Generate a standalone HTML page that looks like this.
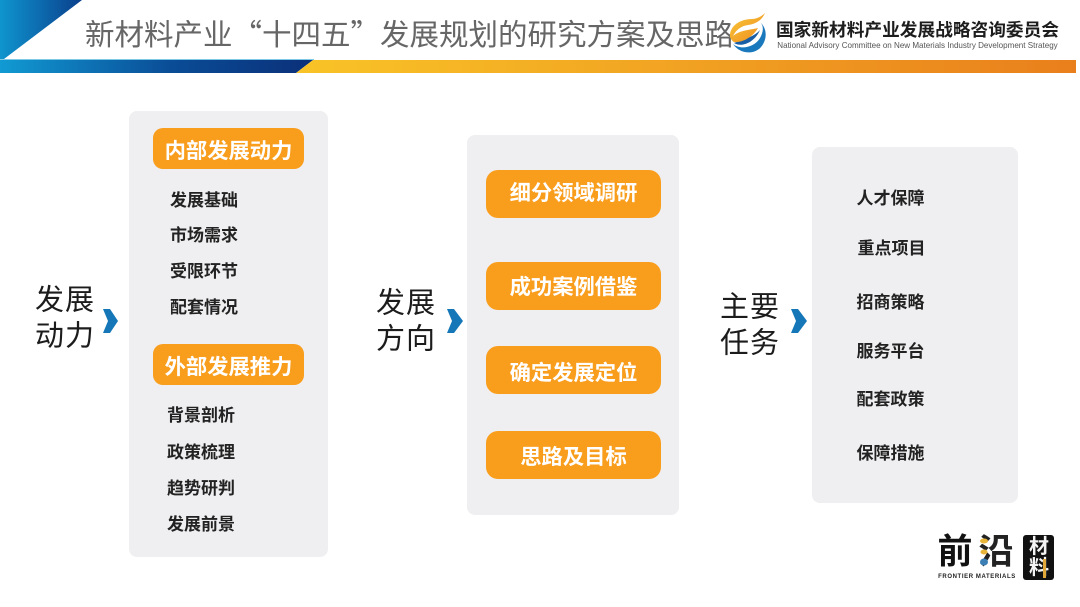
<!DOCTYPE html>
<html lang="zh">
<head>
<meta charset="utf-8">
<style>
html,body{margin:0;padding:0;background:#fff;}
#p{position:relative;width:1080px;height:607px;overflow:hidden;background:#fff;font-family:"Liberation Sans","Noto Sans CJK SC",sans-serif;}
.a{position:absolute;}
.t{position:absolute;white-space:nowrap;transform:translate(-50%,-50%);line-height:1;}
.panel{position:absolute;background:#efeff1;border-radius:8px;}
.btn{position:absolute;box-sizing:border-box;background:#f99d1c;border-radius:10px;color:#fff;font-weight:700;font-size:21.3px;display:flex;align-items:center;justify-content:center;white-space:nowrap;}
.i{font-size:17px;color:#222;font-weight:700;transform:translate(-50%,-47%);}
.h{font-size:29px;color:#1c1c1c;letter-spacing:1px;line-height:36px;text-align:center;transform:translate(-50%,-49.5%);}
svg{position:absolute;left:0;top:0;}
</style>
</head>
<body>
<div id="p">
<svg width="1080" height="607" viewBox="0 0 1080 607">
<defs>
<linearGradient id="g1" x1="0" y1="0" x2="1" y2="0"><stop offset="0" stop-color="#0f95cf"/><stop offset="1" stop-color="#0a3f8c"/></linearGradient>
<linearGradient id="g2" x1="0" y1="0" x2="1" y2="0"><stop offset="0" stop-color="#119ad3"/><stop offset=".55" stop-color="#0a4c96"/><stop offset="1" stop-color="#0b3079"/></linearGradient>
<linearGradient id="g3" x1="0" y1="0" x2="1" y2="0"><stop offset="0" stop-color="#f9c427"/><stop offset="1" stop-color="#e97f1c"/></linearGradient>
<linearGradient id="g4" x1="0" y1="0" x2="1" y2="1"><stop offset="0" stop-color="#f8c93a"/><stop offset="1" stop-color="#ef8a1d"/></linearGradient>
</defs>
<polygon points="0,0 82,0 4,59 0,59" fill="url(#g1)"/>
<rect x="0" y="59" width="314" height="1.5" fill="#7cc9e8"/>
<polygon points="0,60 313,60 296,73 0,73" fill="url(#g2)"/>
<polygon points="313,60 1076,60 1076,73 296,73" fill="url(#g3)"/>
</svg>

<div class="a" style="left:85px;top:18px;font-family:'Noto Sans CJK SC','Liberation Sans',sans-serif;font-size:29.5px;line-height:30px;color:#666;white-space:nowrap;">新材料产业“十四五”发展规划的研究方案及思路</div>

<svg width="1080" height="607" viewBox="0 0 1080 607">
<path d="M733 44 C740 50 754 48 760 38 C763 33 764 27 761 23 C768 30 767 42 759 49 C751 55 739 53 733 44Z" fill="#1a78bd"/>
<path d="M734 43 C742 48 755 42 760 30 C755 36 745 39 734 43Z" fill="#1a5ea6"/>
<path d="M730 37 C729 27 739 19 752 19 C756 19 761 17 765 13 C762 20 756 24 748 25 C741 26 736 30 733 36 C740 30 750 30 758 28 C753 37 742 43 734 42 C732 41 731 39 730 37Z" fill="url(#g4)"/>
</svg>
<div class="t" style="left:917.5px;top:31px;font-size:17.7px;font-weight:700;color:#1d1d1d;">国家新材料产业发展战略咨询委员会</div>
<div class="t" style="left:917.5px;top:45.5px;font-size:8.05px;color:#555;">National Advisory Committee on New Materials Industry Development Strategy</div>

<div class="panel" style="left:129px;top:111px;width:199px;height:446px;"></div>
<div class="panel" style="left:467px;top:135px;width:212px;height:380px;"></div>
<div class="panel" style="left:812px;top:147px;width:206px;height:356px;"></div>

<div class="t h" style="left:65px;top:318px;">发展<br>动力</div>
<div class="t h" style="left:406px;top:321px;">发展<br>方向</div>
<div class="t h" style="left:750px;top:325px;">主要<br>任务</div>

<svg width="1080" height="607" viewBox="0 0 1080 607">
<polygon points="103,309 110,309 118,321 110,333 103,333 108,321" fill="#1577b8"/>
<polygon points="447,309 454,309 463,321 454,333 447,333 452,321" fill="#1577b8"/>
<polygon points="791,309 798,309 807,321 798,333 791,333 796,321" fill="#1577b8"/>
</svg>

<div class="btn" style="left:153px;top:128px;width:151px;height:41px;padding-top:2px;">内部发展动力</div>
<div class="btn" style="left:153px;top:344px;width:151px;height:41px;padding-top:2px;">外部发展推力</div>

<div class="t i" style="left:204px;top:200px;">发展基础</div>
<div class="t i" style="left:204px;top:235px;">市场需求</div>
<div class="t i" style="left:204px;top:271px;">受限环节</div>
<div class="t i" style="left:204px;top:307px;">配套情况</div>
<div class="t i" style="left:201px;top:415px;">背景剖析</div>
<div class="t i" style="left:201px;top:452px;">政策梳理</div>
<div class="t i" style="left:201px;top:488px;">趋势研判</div>
<div class="t i" style="left:201px;top:524px;">发展前景</div>

<div class="btn" style="left:486px;top:170px;width:175px;height:48px;border-radius:12px;padding-bottom:5px;">细分领域调研</div>
<div class="btn" style="left:486px;top:262px;width:175px;height:48px;border-radius:12px;padding-bottom:2px;">成功案例借鉴</div>
<div class="btn" style="left:486px;top:346px;width:175px;height:48px;border-radius:12px;padding-top:2px;">确定发展定位</div>
<div class="btn" style="left:486px;top:431px;width:175px;height:48px;border-radius:12px;padding-bottom:0;">思路及目标</div>

<div class="t i" style="left:890.5px;top:198px;">人才保障</div>
<div class="t i" style="left:891.5px;top:248px;">重点项目</div>
<div class="t i" style="left:890.5px;top:302px;">招商策略</div>
<div class="t i" style="left:890.5px;top:351px;">服务平台</div>
<div class="t i" style="left:890.5px;top:399px;">配套政策</div>
<div class="t i" style="left:890.5px;top:453px;">保障措施</div>

<div class="t" style="left:955px;top:552px;font-size:35px;font-weight:700;color:#111;">前</div>
<div class="t" style="left:996px;top:552px;font-size:35px;font-weight:700;color:#222;">沿</div>
<svg width="1080" height="607" viewBox="0 0 1080 607">
<ellipse cx="984" cy="541" rx="4" ry="2.5" fill="#e8b53a"/>
<ellipse cx="984" cy="552" rx="3.5" ry="2.5" fill="#e8b53a"/>
<ellipse cx="984" cy="562" rx="4" ry="3.5" fill="#3b7fb5"/>
</svg>
<div class="t" style="left:977px;top:577px;font-size:6px;font-weight:700;color:#222;letter-spacing:.6px;">FRONTIER MATERIALS</div>
<div class="a" style="left:1023px;top:535px;width:31px;height:45px;background:#111;border-radius:3px;"></div>
<div class="t" style="left:1039px;top:547px;font-size:20px;font-weight:700;color:#f4f4f4;">材</div>
<div class="t" style="left:1039px;top:568px;font-size:20px;font-weight:700;color:#f4f4f4;">料</div>
<div class="a" style="left:1043px;top:559px;width:3px;height:19px;background:#e0a93a;"></div>
</div>
</body>
</html>
